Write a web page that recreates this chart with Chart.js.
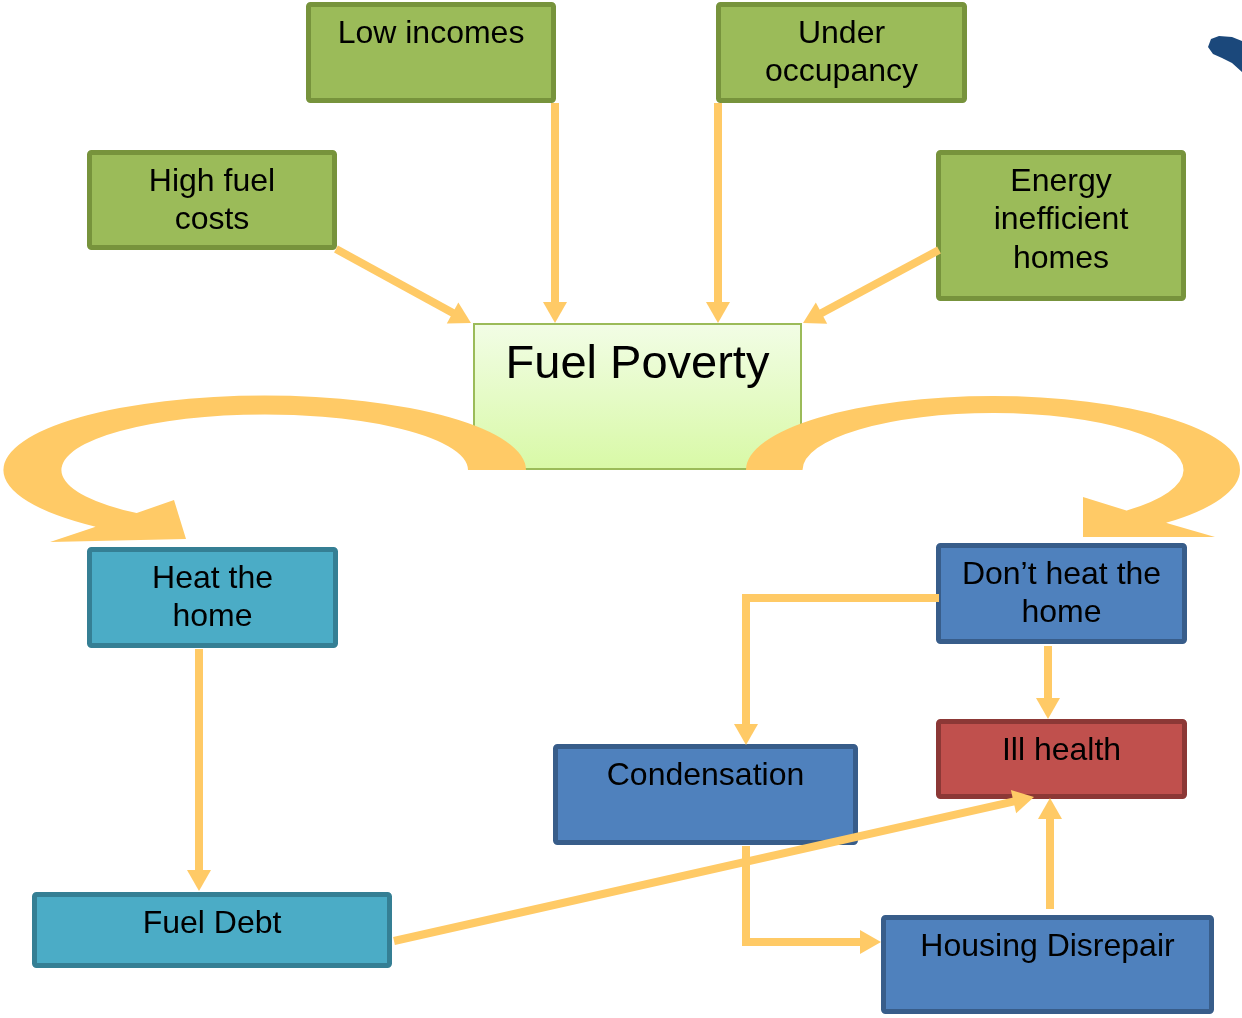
<!DOCTYPE html>
<html>
<head>
<meta charset="utf-8">
<script src="https://cdn.jsdelivr.net/npm/chart.js@4.4.1/dist/chart.umd.min.js"></script>
<style>
  html, body { margin: 0; padding: 0; background: #fff; }
  #wrap { width: 1242px; height: 1018px; position: relative; }
</style>
</head>
<body>
<div id="wrap"><canvas id="chart"></canvas></div>
<script>
// boxes of the diagram, in axis units (x: 0..1242, y: 0..1018 downwards)
const nodeLabels = ['Low incomes', 'Under\noccupancy', 'High fuel\ncosts', 'Energy\ninefficient\nhomes',
  'Fuel Poverty', 'Heat the\nhome', 'Don\u2019t heat the\nhome', 'Ill health', 'Condensation',
  'Fuel Debt', 'Housing Disrepair'];
const nodeKinds = ['cause', 'cause', 'cause', 'cause', 'core', 'heat', 'noheat', 'health', 'noheat', 'heat', 'noheat'];
const nodeLeft = [306, 716, 87, 936, 473, 87, 936, 936, 553, 32, 881];
const nodeTop = [2, 2, 150, 150, 323, 547, 543, 719, 744, 892, 915];
const nodeRight = [556, 967, 337, 1186, 802, 338, 1187, 1187, 858, 392, 1214];
const nodeBottom = [103, 103, 250, 301, 470, 648, 644, 799, 845, 968, 1014];

// connectors, last point is the arrow tip
const arrowPaths = [
  [[336, 249], [471, 323]],
  [[555, 103], [555, 323]],
  [[718, 103], [718, 323]],
  [[939, 250], [803, 323]],
  [[199, 649], [199, 891]],
  [[1048, 646], [1048, 719]],
  [[939, 598], [746, 598], [746, 745]],
  [[746, 846], [746, 942], [881, 942]],
  [[1050, 909], [1050, 798]],
  [[394, 941], [1034, 797]]
];

// the two big curved arrows leaving Fuel Poverty
const sweepCentre = [[264.7, 470], [993, 470]];
const sweepOuter = [[261.3, 74.5], [247, 74]];
const sweepInner = [[203.3, 55.5], [190.5, 57]];
const sweepHead = [
  [[92, 528], [50, 542], [186, 539], [174, 500], [131, 515]],
  [[1170, 524], [1215, 537], [1083, 537], [1083, 497], [1128, 511]]
];

const blobPath = [[1211, 39], [1219, 36], [1232, 37], [1242, 41], [1242, 72], [1232, 63],
  [1222, 58], [1213, 54], [1208, 47]];

const ARROW = 'rgb(255,202,102)';
const kindFill = { cause: '#9bbb59', heat: '#4bacc6', noheat: '#4f81bd', health: '#c0504d' };
const kindEdge = { cause: '#77933c', heat: '#357f94', noheat: '#385d8a', health: '#8c3836' };
const HEAD_LEN = 21, HEAD_HALF = 12;

function shorten(path) {
  const pts = path.map(p => ({ x: p[0], y: p[1] }));
  const a = pts[pts.length - 2], b = pts[pts.length - 1];
  const d = Math.hypot(b.x - a.x, b.y - a.y);
  pts[pts.length - 1] = { x: b.x - (b.x - a.x) / d * (HEAD_LEN - 3), y: b.y - (b.y - a.y) / d * (HEAD_LEN - 3) };
  return pts;
}

const diagram = {
  id: 'diagram',
  beforeDatasetsDraw(chart) {
    const { ctx, scales: { x, y } } = chart;
    const px = v => x.getPixelForValue(v), py = v => y.getPixelForValue(v);
    ctx.save();
    nodeLabels.forEach((label, i) => {
      const l = px(nodeLeft[i]), t = py(nodeTop[i]), r = px(nodeRight[i]), b = py(nodeBottom[i]);
      const kind = nodeKinds[i];
      if (kind === 'core') {
        const g = ctx.createLinearGradient(0, t, 0, b);
        g.addColorStop(0, '#f2fde6');
        g.addColorStop(1, '#d8f9a6');
        ctx.fillStyle = g;
        ctx.fillRect(l, t, r - l, b - t);
        ctx.strokeStyle = '#9bbb59';
        ctx.lineWidth = 2;
        ctx.strokeRect(l + 1, t + 1, r - l - 2, b - t - 2);
      } else {
        ctx.fillStyle = kindFill[kind];
        ctx.strokeStyle = kindEdge[kind];
        ctx.lineWidth = 5;
        ctx.beginPath();
        ctx.roundRect(l + 2.5, t + 2.5, r - l - 5, b - t - 5, 2);
        ctx.fill();
        ctx.stroke();
      }
      ctx.fillStyle = '#000';
      ctx.textAlign = 'center';
      ctx.textBaseline = 'middle';
      const big = kind === 'core';
      ctx.font = (big ? 47 : 32) + 'px "Liberation Sans", Arial, sans-serif';
      const cx = (l + r) / 2;
      label.split('\n').forEach((line, k) => {
        ctx.fillText(line, cx, t + (big ? 42 : 32) + k * 38.5);
      });
    });
    ctx.restore();
  },
  afterDatasetsDraw(chart) {
    const { ctx, scales: { x, y } } = chart;
    const px = v => x.getPixelForValue(v), py = v => y.getPixelForValue(v);
    ctx.save();
    ctx.fillStyle = ARROW;
    // arrow heads
    arrowPaths.forEach(path => {
      const a = path[path.length - 2], b = path[path.length - 1];
      const ax = px(a[0]), ay = py(a[1]), bx = px(b[0]), by = py(b[1]);
      const d = Math.hypot(bx - ax, by - ay), ux = (bx - ax) / d, uy = (by - ay) / d;
      ctx.beginPath();
      ctx.moveTo(bx, by);
      ctx.lineTo(bx - ux * HEAD_LEN - uy * HEAD_HALF, by - uy * HEAD_LEN + ux * HEAD_HALF);
      ctx.lineTo(bx - ux * HEAD_LEN + uy * HEAD_HALF, by - uy * HEAD_LEN - ux * HEAD_HALF);
      ctx.closePath();
      ctx.fill();
    });
    // curved arrows
    sweepCentre.forEach((c, i) => {
      const cx = px(c[0]), cy = py(c[1]);
      const orx = px(c[0] + sweepOuter[i][0]) - cx, ory = py(c[1] + sweepOuter[i][1]) - cy;
      const irx = px(c[0] + sweepInner[i][0]) - cx, iry = py(c[1] + sweepInner[i][1]) - cy;
      const head = sweepHead[i].map(p => [px(p[0]), py(p[1])]);
      const o = head[0], n = head[head.length - 1];
      const oa = Math.atan2((o[1] - cy) / ory, (o[0] - cx) / orx);
      const ia = Math.atan2((n[1] - cy) / iry, (n[0] - cx) / irx);
      const start = i === 0 ? 0 : Math.PI;
      const ccw = i === 0;
      ctx.beginPath();
      ctx.ellipse(cx, cy, orx, ory, 0, start, oa, ccw);
      head.forEach(p => ctx.lineTo(p[0], p[1]));
      ctx.ellipse(cx, cy, irx, iry, 0, ia, start, !ccw);
      ctx.closePath();
      ctx.fill();
    });
    // small dark shape at the top right edge
    ctx.fillStyle = '#1b487b';
    ctx.lineJoin = 'round';
    ctx.beginPath();
    blobPath.forEach((p, k) => k ? ctx.lineTo(px(p[0]), py(p[1])) : ctx.moveTo(px(p[0]), py(p[1])));
    ctx.closePath();
    ctx.fill();
    ctx.restore();
  }
};

new Chart(document.getElementById('chart'), {
  type: 'scatter',
  data: {
    datasets: arrowPaths.map(path => ({
      data: shorten(path),
      showLine: true,
      borderColor: ARROW,
      borderWidth: 8,
      pointRadius: 0,
      borderJoinStyle: 'miter'
    }))
  },
  options: {
    responsive: true,
    maintainAspectRatio: false,
    animation: false,
    events: [],
    layout: { padding: 0 },
    plugins: { legend: { display: false }, tooltip: { enabled: false } },
    scales: {
      x: { type: 'linear', min: 0, max: 1242, display: false },
      y: { type: 'linear', min: 0, max: 1018, reverse: true, display: false }
    }
  },
  plugins: [diagram]
});
</script>
</body>
</html>
